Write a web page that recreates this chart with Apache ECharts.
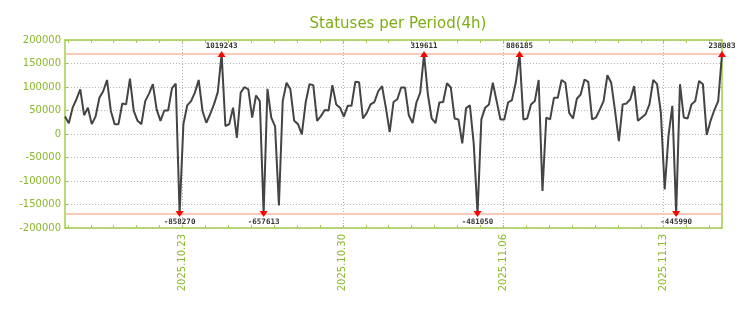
<!DOCTYPE html>
<html><head><meta charset="utf-8">
<script src="https://cdn.jsdelivr.net/npm/echarts@6/dist/echarts.min.js"></script>
<style>html,body{margin:0;padding:0;background:#fff}#c{width:744px;height:310px}</style>
</head><body><div id="c"></div>
<script>
const chartTitle = 'Statuses per Period(4h)';
const firstPeriod = '2025-10-17T21:00:00Z';
const periodHours = 4;
const weekLabels = ['2025.10.23', '2025.10.30', '2025.11.06', '2025.11.13'];
const weekDates = ['2025-10-23T00:00:00Z', '2025-10-30T00:00:00Z', '2025-11-06T00:00:00Z', '2025-11-13T00:00:00Z'];
const clipLimit = 170000;
const yTicks = [-200000, -150000, -100000, -50000, 0, 50000, 100000, 150000, 200000];
const statuses = [
  37000, 23000, 56000, 74000, 95000, 40000, 56000, 21000, 37000, 77000,
  91000, 115000, 49000, 21000, 21000, 65000, 63000, 118000, 49000, 28000,
  21000, 70000, 86000, 106000, 52000, 28000, 50000, 50000, 97000, 107000,
  -858270, 21000, 61000, 70000, 88000, 115000, 49000, 24000, 42000, 63000,
  89000, 1019243, 17000, 21000, 56000, -8000, 88000, 100000, 95000, 35000,
  82000, 70000, -657613, 96000, 35000, 16000, -152000, 70000, 109000, 95000,
  28000, 21000, -1000, 67000, 106000, 104000, 28000, 38000, 51000, 50000,
  104000, 63000, 56000, 37000, 60000, 60000, 111000, 110000, 33000, 45000,
  63000, 68000, 91000, 102000, 56000, 4000, 68000, 74000, 99000, 99000,
  40000, 23000, 67000, 88000, 319611, 84000, 33000, 23000, 67000, 68000,
  108000, 99000, 33000, 31000, -20000, 55000, 61000, -20000, -481050, 31000,
  56000, 63000, 109000, 70000, 31000, 31000, 67000, 72000, 109000, 886185,
  31000, 33000, 63000, 70000, 115000, -121000, 35000, 31000, 77000, 77000,
  115000, 109000, 45000, 33000, 75000, 84000, 116000, 111000, 31000, 35000,
  52000, 70000, 125000, 109000, 49000, -15000, 63000, 65000, 74000, 102000,
  28000, 35000, 42000, 63000, 115000, 106000, 45000, -118000, -3000, 60000,
  -445990, 106000, 35000, 33000, 63000, 70000, 113000, 106000, -2000, 28000,
  51000, 70000, 238083
];

const H = 3600 * 1000;
const t0 = Date.parse(firstPeriod);
const xMax = (statuses.length - 1) * periodHours;
const weekPos = weekDates.map(d => (Date.parse(d) - t0) / H);
const dayTicks = [];
for (let h = weekPos[0] % 24; h <= xMax; h += 24) dayTicks.push(h);
const clamp = v => Math.max(-clipLimit, Math.min(clipLimit, v));
const lineData = statuses.map((v, i) => [i * periodHours, clamp(v)]);
const highs = [], lows = [];
statuses.forEach((v, i) => {
  if (v > clipLimit) highs.push([i * periodHours, clipLimit, v]);
  if (v < -clipLimit) lows.push([i * periodHours, -clipLimit, v]);
});

const green = '#a3cc4c', labelGreen = '#8ab82a';
const font = 'DejaVu Sans';
const markLabel = {show: true, fontFamily: 'DejaVu Sans Mono', fontSize: 7.5, fontWeight: 'bold', color: '#333', formatter: p => String(p.value[2])};

const chart = echarts.init(document.getElementById('c'), null, {renderer: 'canvas'});
chart.setOption({
  animation: false,
  backgroundColor: '#fff',
  title: {text: chartTitle, left: 393, textAlign: 'center', top: 12,
    textStyle: {color: '#7dad14', fontFamily: font, fontSize: 15, fontWeight: 'normal'}},
  grid: {left: 65, right: 22, top: 40, bottom: 82},
  xAxis: [
    {type: 'value', position: 'bottom', min: 0, max: xMax,
      axisLine: {show: true, onZero: false, lineStyle: {color: green, width: 1.5}},
      axisTick: {show: true, inside: true, length: 3, customValues: dayTicks, lineStyle: {color: green}},
      axisLabel: {show: true, customValues: weekPos, rotate: 90, margin: 6, color: labelGreen, fontFamily: font, fontSize: 10,
        formatter: v => { const k = weekPos.findIndex(p => Math.abs(p - v) < 1e-6); return k >= 0 ? weekLabels[k] : ''; }},
      splitLine: {show: false}},
    {type: 'value', position: 'top', min: 0, max: xMax,
      axisLine: {show: true, onZero: false, lineStyle: {color: green, width: 1.5}},
      axisTick: {show: true, inside: true, length: 3, customValues: dayTicks, lineStyle: {color: green}},
      axisLabel: {show: false}, splitLine: {show: false}},
    {type: 'value', position: 'bottom', min: 0, max: xMax,
      axisLine: {show: false, onZero: false}, axisTick: {show: false, customValues: weekPos}, axisLabel: {show: false},
      splitLine: {show: true, lineStyle: {color: '#b4b4b4', width: 1, type: [1, 2]}}}
  ],
  yAxis: [
    {type: 'value', position: 'left', min: yTicks[0], max: yTicks[yTicks.length - 1], interval: yTicks[1] - yTicks[0],
      axisLine: {show: true, onZero: false, lineStyle: {color: green, width: 1.5}},
      axisTick: {show: true, inside: true, length: 3, lineStyle: {color: green}},
      axisLabel: {show: true, margin: 4, color: labelGreen, fontFamily: font, fontSize: 10, formatter: v => String(v)},
      splitLine: {show: true, lineStyle: {color: '#b4b4b4', width: 1, type: [1, 2]}}},
    {type: 'value', position: 'right', min: yTicks[0], max: yTicks[yTicks.length - 1], interval: yTicks[1] - yTicks[0],
      axisLine: {show: true, onZero: false, lineStyle: {color: green, width: 1.5}},
      axisTick: {show: true, inside: true, length: 3, lineStyle: {color: green}},
      axisLabel: {show: false}, splitLine: {show: false}}
  ],
  series: [
    {type: 'line', xAxisIndex: 0, yAxisIndex: 0, data: lineData, showSymbol: false, z: 3,
      lineStyle: {color: '#444', width: 2}, itemStyle: {color: '#444'},
      markLine: {silent: true, symbol: 'none', label: {show: false}, z: 2,
        lineStyle: {color: '#f8b9a0', width: 1.5, type: 'solid'},
        data: [{yAxis: clipLimit}, {yAxis: -clipLimit}]}},
    {type: 'scatter', xAxisIndex: 0, yAxisIndex: 0, data: highs, symbol: 'triangle', symbolSize: [8, 6], z: 4,
      itemStyle: {color: '#f00', opacity: 1}, label: Object.assign({position: 'top', distance: 1}, markLabel)},
    {type: 'scatter', xAxisIndex: 0, yAxisIndex: 0, data: lows, symbol: 'triangle', symbolRotate: 180, symbolSize: [8, 6], z: 4,
      itemStyle: {color: '#f00', opacity: 1}, label: Object.assign({position: 'bottom', distance: 1}, markLabel)}
  ]
});
</script></body></html>
